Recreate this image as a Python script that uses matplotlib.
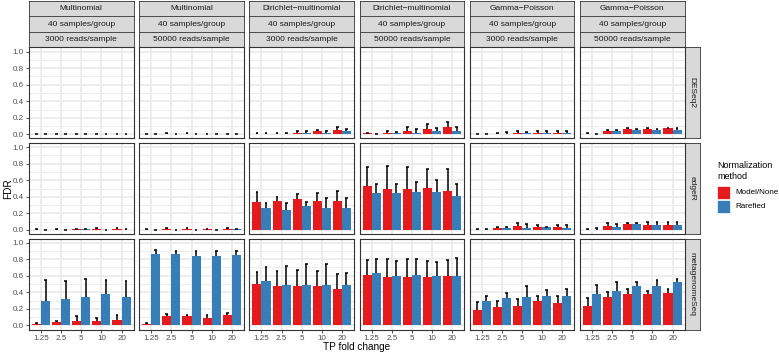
import numpy as np
import matplotlib
matplotlib.use('Agg')
import matplotlib.pyplot as plt
from matplotlib.patches import Rectangle

plt.rcParams['font.family'] = ['Liberation Sans', 'DejaVu Sans']

W, H = 779, 354
RED = '#E41A1C'
BLUE = '#377EB8'

methods = ['DESeq2', 'edgeR', 'metagenomeSeq']
col_dist = ['Multinomial', 'Multinomial', 'Dirichlet\u2212multinomial',
            'Dirichlet\u2212multinomial', 'Gamma\u2212Poisson', 'Gamma\u2212Poisson']
col_samples = ['40 samples/group'] * 6
col_reads = ['3000 reads/sample', '50000 reads/sample'] * 3
fold_changes = ['1.25', '2.5', '5', '10', '20']

######### FDR means and upper error bar ends #########
# Model/None
model_deseq2 = [[0.003, 0.003, 0.003, 0.003, 0.003],
                [0.002, 0.002, 0.002, 0.002, 0.002],
                [0.005, 0.005, 0.02, 0.04, 0.055],
                [0.02, 0.02, 0.045, 0.07, 0.085],
                [0.005, 0.005, 0.02, 0.02, 0.02],
                [0.005, 0.045, 0.07, 0.07, 0.075]]
model_deseq2_hi = [[0.006, 0.006, 0.006, 0.006, 0.006],
                   [0.005, 0.02, 0.015, 0.005, 0.005],
                   [0.02, 0.02, 0.045, 0.05, 0.085],
                   [0.02, 0.04, 0.085, 0.13, 0.15],
                   [0.01, 0.02, 0.035, 0.035, 0.035],
                   [0.02, 0.055, 0.075, 0.08, 0.08]]
model_edger = [[0.003, 0.003, 0.005, 0.015, 0.015],
               [0.003, 0.015, 0.015, 0.005, 0.015],
               [0.34, 0.35, 0.37, 0.35, 0.35],
               [0.53, 0.49, 0.49, 0.51, 0.47],
               [0.003, 0.02, 0.05, 0.03, 0.03],
               [0.003, 0.05, 0.065, 0.06, 0.06]]
model_edger_hi = [[0.006, 0.015, 0.015, 0.02, 0.02],
                  [0.005, 0.022, 0.022, 0.015, 0.022],
                  [0.46, 0.40, 0.43, 0.44, 0.47],
                  [0.76, 0.77, 0.76, 0.73, 0.74],
                  [0.01, 0.035, 0.08, 0.06, 0.06],
                  [0.01, 0.08, 0.08, 0.09, 0.09]]
model_mgs = [[0.02, 0.04, 0.05, 0.05, 0.07],
             [0.02, 0.11, 0.11, 0.09, 0.12],
             [0.50, 0.47, 0.47, 0.47, 0.44],
             [0.61, 0.58, 0.59, 0.59, 0.60],
             [0.19, 0.22, 0.24, 0.30, 0.27],
             [0.24, 0.34, 0.38, 0.38, 0.39]]
model_mgs_hi = [[0.03, 0.05, 0.11, 0.09, 0.13],
                [0.03, 0.14, 0.13, 0.13, 0.15],
                [0.64, 0.66, 0.67, 0.66, 0.62],
                [0.79, 0.80, 0.80, 0.78, 0.79],
                [0.28, 0.29, 0.32, 0.36, 0.36],
                [0.33, 0.40, 0.44, 0.41, 0.44]]
# Rarefied
rare_deseq2 = [[0.003, 0.003, 0.003, 0.003, 0.003],
               [0.002, 0.002, 0.002, 0.002, 0.002],
               [0.005, 0.005, 0.02, 0.02, 0.045],
               [0.003, 0.02, 0.02, 0.045, 0.045],
               [0.002, 0.01, 0.02, 0.02, 0.02],
               [0.002, 0.045, 0.055, 0.055, 0.055]]
rare_deseq2_hi = [[0.006, 0.006, 0.006, 0.006, 0.006],
                  [0.004, 0.004, 0.004, 0.004, 0.004],
                  [0.02, 0.02, 0.045, 0.045, 0.06],
                  [0.01, 0.03, 0.06, 0.08, 0.09],
                  [0.005, 0.03, 0.03, 0.035, 0.04],
                  [0.01, 0.055, 0.07, 0.065, 0.075]]
rare_edger = [[0.002, 0.002, 0.005, 0.002, 0.003],
              [0.002, 0.002, 0.002, 0.002, 0.005],
              [0.27, 0.24, 0.29, 0.27, 0.27],
              [0.45, 0.45, 0.46, 0.46, 0.41],
              [0.003, 0.02, 0.02, 0.03, 0.02],
              [0.003, 0.03, 0.065, 0.06, 0.06]]
rare_edger_hi = [[0.004, 0.004, 0.015, 0.004, 0.01],
                 [0.004, 0.004, 0.004, 0.004, 0.015],
                 [0.33, 0.33, 0.34, 0.39, 0.39],
                 [0.56, 0.56, 0.58, 0.60, 0.56],
                 [0.01, 0.035, 0.07, 0.04, 0.06],
                 [0.02, 0.07, 0.08, 0.09, 0.09]]
rare_mgs = [[0.29, 0.32, 0.34, 0.38, 0.34],
            [0.86, 0.86, 0.84, 0.84, 0.85],
            [0.54, 0.49, 0.49, 0.49, 0.49],
            [0.63, 0.60, 0.61, 0.60, 0.60],
            [0.30, 0.33, 0.34, 0.35, 0.36],
            [0.38, 0.42, 0.48, 0.48, 0.53]]
rare_mgs_hi = [[0.55, 0.54, 0.56, 0.55, 0.54],
               [0.91, 0.90, 0.90, 0.90, 0.90],
               [0.71, 0.72, 0.74, 0.74, 0.63],
               [0.80, 0.78, 0.80, 0.76, 0.82],
               [0.35, 0.39, 0.47, 0.43, 0.44],
               [0.49, 0.52, 0.52, 0.55, 0.56]]

model_all = [model_deseq2, model_edger, model_mgs]
model_all_hi = [model_deseq2_hi, model_edger_hi, model_mgs_hi]
rare_all = [rare_deseq2, rare_edger, rare_mgs]
rare_all_hi = [rare_deseq2_hi, rare_edger_hi, rare_mgs_hi]


def px_axes(fig, x0, y0, x1, y1):
	return fig.add_axes([x0 / W, 1 - y1 / H, (x1 - x0) / W, (y1 - y0) / H])


def strip(fig, x0, y0, x1, y1, text, rot=0):
	ax = px_axes(fig, x0, y0, x1, y1)
	ax.set_facecolor('#D9D9D9')
	ax.set_xticks([])
	ax.set_yticks([])
	for s in ax.spines.values():
		s.set_color('#333333')
		s.set_linewidth(0.6)
	ax.text(0.5, 0.5, text, ha='center', va='center', rotation=rot,
			fontsize=6.0, color='#1A1A1A', transform=ax.transAxes)
	return ax


fig = plt.figure(figsize=(W / 100, H / 100), dpi=100)

col_x0 = [29 + i * 110.2 for i in range(6)]
col_w = 104.6
row_y0 = [47.5 + j * 95.5 for j in range(3)]
row_h = 91
x = np.arange(len(fold_changes))
bw = 0.45

# top strips
for i in range(6):
	x0 = col_x0[i]
	strip(fig, x0, 0.5, x0 + col_w, 16, col_dist[i])
	strip(fig, x0, 16, x0 + col_w, 32, col_samples[i])
	strip(fig, x0, 32, x0 + col_w, row_y0[0], col_reads[i])

for j in range(3):
	y0 = row_y0[j]
	strip(fig, col_x0[5] + col_w, y0, col_x0[5] + col_w + 15.5, y0 + row_h,
		  methods[j], rot=-90)
	for i in range(6):
		x0 = col_x0[i]
		ax = px_axes(fig, x0, y0, x0 + col_w, y0 + row_h)
		ax.set_xlim(-0.6, 4.6)
		ax.set_ylim(-0.05, 1.05)
		ax.set_yticks([0, 0.2, 0.4, 0.6, 0.8, 1.0])
		ax.set_yticks([0.1, 0.3, 0.5, 0.7, 0.9], minor=True)
		ax.set_xticks(x)
		ax.grid(True, which='major', color='#E8E8E8', linewidth=1.1)
		ax.grid(True, which='minor', axis='y', color='#EDEDED', linewidth=0.7)
		ax.set_axisbelow(True)
		ax.tick_params(which='minor', length=0)
		ax.tick_params(which='major', length=2.5, width=0.6, color='#333333',
					   labelsize=5.8, labelcolor='#4D4D4D', pad=1.5)
		for s in ax.spines.values():
			s.set_color('#333333')
			s.set_linewidth(0.8)

		m = np.array(model_all[j][i])
		mh = np.array(model_all_hi[j][i])
		r = np.array(rare_all[j][i])
		rh = np.array(rare_all_hi[j][i])
		ax.bar(x - bw / 2, m, width=bw, color=RED, zorder=2)
		ax.bar(x + bw / 2, r, width=bw, color=BLUE, zorder=2)
		for xs, lo, hi in [(x - bw / 2, m, mh), (x + bw / 2, r, rh)]:
			ax.vlines(xs, lo, hi, color='black', linewidth=1.1, zorder=3)
			ax.hlines(hi, xs - 0.07, xs + 0.07, color='black', linewidth=1.1, zorder=3)

		if i == 0:
			ax.set_yticklabels(['0.0', '0.2', '0.4', '0.6', '0.8', '1.0'])
		else:
			ax.set_yticklabels([])
			ax.tick_params(axis='y', length=0)
		if j == 2:
			ax.set_xticklabels(fold_changes)
		else:
			ax.set_xticklabels([])
			ax.tick_params(axis='x', length=0)

fig.text(8 / W, 1 - 188.5 / H, 'FDR', rotation=90, ha='center', va='center',
		 fontsize=7.2, color='black')
fig.text(357 / W, 1 - 347 / H, 'TP fold change', ha='center', va='center',
		 fontsize=7.2, color='black')

# legend
fig.text(717 / W, 1 - 165 / H, 'Normalization', ha='left', va='center',
		 fontsize=6.5, color='black')
fig.text(717 / W, 1 - 176 / H, 'method', ha='left', va='center',
		 fontsize=6.5, color='black')
for k, (lab, col) in enumerate([('Model/None', RED), ('Rarefied', BLUE)]):
	ky = 186 + k * 13.5
	fig.patches.append(Rectangle((717 / W, 1 - (ky + 13) / H), 13 / W, 13 / H,
								 transform=fig.transFigure, facecolor=col,
								 edgecolor='white', linewidth=0.5))
	fig.text(735 / W, 1 - (ky + 6.5) / H, lab, ha='left', va='center',
			 fontsize=5.8, color='black')

plt.savefig('out.png', dpi=100)
